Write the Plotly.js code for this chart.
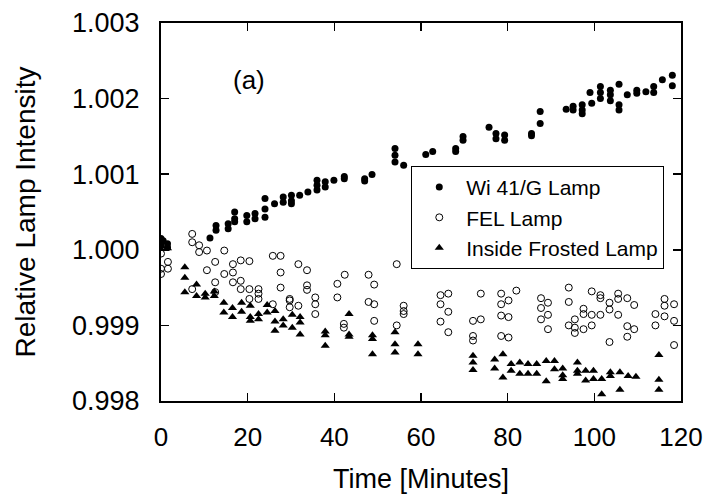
<!DOCTYPE html>
<html>
<head>
<meta charset="utf-8">
<script src="https://cdn.plot.ly/plotly-3.0.1.min.js"></script>
<style>html,body{margin:0;padding:0;background:#fff;}#chart{width:706px;height:494px;}</style>
</head>
<body>
<div id="chart"></div>
<script>
// Wi 41/G Lamp (filled circles)
var wiTime = [0,0,0,0.5,1.5,1.5,
  11.3,12.7,12.7,15.5,15.5,17,17,17,19.8,19.8,21.7,21.7,24,24,24,26.2,28.2,28.2,
  30.1,30.1,30.1,32,33.9,36,36,36,37.9,37.9,39.9,42.3,42.3,47,47,48.7,
  54,54,54,56,61.1,62.7,68,68,69.7,69.7,75.7,77.3,77.3,79.3,79.3,85.5,85.5,
  87.5,87.5,93.5,95.1,95.1,97.2,97.2,97.2,99,99.4,101.4,101.4,101.4,103.7,103.7,103.7,
  105.7,105.7,105.7,107.6,109.8,109.8,111.9,113.7,113.7,115.7,118,118];
var wiValue = [1.00015,1.00010,1.00005,1.00012,1.00008,1.00003,
  1.000155,1.000323,1.00026,1.00028,1.000345,1.0005,1.00041,1.00037,1.000455,1.00037,1.00048,1.00041,1.00068,1.00054,1.00043,1.00061,1.0007,1.00063,
  1.00072,1.00065,1.00061,1.00072,1.000765,1.00092,1.000854,1.00079,1.0009,1.00083,1.00092,1.00097,1.00094,1.00094,1.00091,1.000996,
  1.00134,1.00125,1.00116,1.00112,1.00126,1.0013,1.00134,1.0013,1.0015,1.00145,1.00162,1.00154,1.00147,1.00152,1.00145,1.00154,1.00151,
  1.00183,1.00167,1.00186,1.0019,1.00185,1.00192,1.00185,1.0018,1.00208,1.00194,1.00216,1.00208,1.002,1.00211,1.00205,1.00197,
  1.00219,1.00192,1.00185,1.00205,1.00211,1.00207,1.00209,1.00216,1.00208,1.00225,1.00231,1.00217];

// FEL Lamp (open circles)
var felTime = [0,0,0,1.6,1.6,7.2,7.2,7.2,8.8,8.8,10.6,10.6,12.5,12.5,12.5,14.6,14.6,
  16.6,16.6,16.6,18.4,18.4,18.4,20.4,20.4,20.4,22.5,22.5,22.5,25.8,25.8,27.6,27.6,27.6,
  29.7,29.7,29.7,31.7,31.7,33.7,33.7,33.7,35.6,35.6,35.6,40.7,40.7,42.4,42.2,42.2,
  47.9,47.9,49.2,49.2,49.2,54.4,54.4,56,56,56,64.5,64.5,64.5,66.3,66.3,66.3,
  72,72,72,73.8,73.8,78.5,78.5,78.5,78.5,80.2,80.2,80.2,82,87.7,87.7,87.7,89.3,89.3,89.3,
  94.1,94.1,94.1,95.5,95.5,95.5,97.5,97.5,97.5,99.4,99.4,99.4,101.4,101.4,101.4,103.5,103.5,103.5,
  105.5,105.5,105.5,107.6,107.6,107.6,109.2,109.2,114.1,114.1,116.2,116.2,116.2,118.4,118.4,118.4];
var felValue = [0.99995,0.99975,0.99968,0.99984,0.99975,1.00021,1.0001,0.99948,1.00006,0.99997,0.99999,0.99973,0.99984,0.99957,0.99944,0.99999,0.99968,
  0.99981,0.9997,0.99957,0.99986,0.99959,0.99948,0.99985,0.99948,0.99935,0.99948,0.99942,0.99935,0.99992,0.99928,0.99992,0.9997,0.9995,
  0.99935,0.99933,0.99924,0.99981,0.99926,0.99973,0.99953,0.99947,0.99937,0.99928,0.99915,0.99955,0.99937,0.99967,0.99902,0.99897,
  0.99967,0.99931,0.99954,0.99928,0.99906,0.99981,0.999,0.99926,0.99919,0.99915,0.9994,0.99928,0.99905,0.99942,0.99918,0.99891,
  0.99906,0.99886,0.9988,0.99942,0.99908,0.99942,0.99928,0.99913,0.99886,0.99933,0.99911,0.99884,0.99946,0.99936,0.99923,0.99908,0.9993,0.99914,0.99895,
  0.9995,0.99931,0.999,0.99908,0.99897,0.9989,0.99922,0.99915,0.99895,0.99945,0.99914,0.999,0.9994,0.99936,0.99914,0.9993,0.99921,0.99878,
  0.99942,0.99935,0.99914,0.99936,0.99899,0.99885,0.99927,0.99895,0.99915,0.999,0.99935,0.99926,0.99912,0.99928,0.99906,0.99874];

// Inside Frosted Lamp (filled triangles)
var ifTime = [0,0,1.5,5.5,5.5,5.5,8.2,8.2,10.2,10.2,12.3,12.3,14.5,14.5,16.5,16.5,18.6,18.6,
  20.6,20.6,20.6,22.5,22.5,24.5,24.5,26.3,26.3,26.3,28.2,28.2,30.3,30.3,32.1,32.1,32.1,
  37.9,37.9,37.9,43.4,43.4,43.4,48.8,48.8,48.8,54,54,54,59.3,59.3,
  72,72,72,77,77,78.9,78.9,80.8,80.8,82.8,82.8,84.7,84.7,86.7,86.7,88.9,88.9,90.8,90.8,
  92.7,92.7,92.7,96.1,96.1,96.1,98,98,99.8,99.8,101.7,101.7,103.7,103.7,105.9,105.9,107.8,109.6,
  114.9,114.9,114.9];
var ifValue = [1.00012,1.00005,1.00002,0.99977,0.99963,0.99944,0.99954,0.99939,0.99942,0.99937,0.99945,0.99939,0.9993,0.99917,0.99923,0.99911,0.9993,0.99918,
  0.99926,0.99911,0.99906,0.99915,0.99908,0.99927,0.99917,0.99919,0.99905,0.99893,0.99908,0.999,0.99914,0.99897,0.99911,0.99904,0.99888,
  0.99892,0.99887,0.99873,0.99915,0.99888,0.99885,0.99887,0.99882,0.99862,0.99891,0.99875,0.99864,0.99875,0.99862,
  0.9986,0.99851,0.99841,0.99855,0.99843,0.99862,0.99831,0.99849,0.9984,0.99851,0.99836,0.99849,0.99836,0.99849,0.99836,0.99853,0.99826,0.99853,0.99842,
  0.99843,0.99834,0.99829,0.99851,0.9984,0.99836,0.9984,0.99827,0.9984,0.99829,0.99829,0.99809,0.99838,0.99833,0.99838,0.99815,0.99833,0.99832,
  0.99861,0.99828,0.99815];

var seriesNames = ['Wi 41/G Lamp', 'FEL Lamp', 'Inside Frosted Lamp'];
var xTickVals = [0,20,40,60,80,100,120];
var yTickVals = [0.998,0.999,1.000,1.001,1.002,1.003];
var yTickText = ['0.998','0.999','1.000','1.001','1.002','1.003'];

var FONT = 'Liberation Sans, Arial, Helvetica, sans-serif';

var traces = [
  {x: wiTime, y: wiValue, name: seriesNames[0], type: 'scatter', mode: 'markers',
   marker: {symbol: 'circle', size: 7, color: '#000'}},
  {x: felTime, y: felValue, name: seriesNames[1], type: 'scatter', mode: 'markers',
   marker: {symbol: 'circle-open', size: 7, color: '#000', line: {width: 1, color: '#000'}}},
  {x: ifTime, y: ifValue, name: seriesNames[2], type: 'scatter', mode: 'markers',
   marker: {symbol: 'triangle-up', size: 8, color: '#000'}}
];

var axisCommon = {
  showgrid: false, zeroline: false, showline: true, linecolor: '#000', linewidth: 2,
  mirror: 'allticks', ticks: 'inside', ticklen: 8, tickwidth: 1.5, tickcolor: '#000'
};

var layout = {
  width: 706, height: 494,
  margin: {l: 161, r: 25, t: 23, b: 93},
  paper_bgcolor: '#fff', plot_bgcolor: '#fff',
  showlegend: true,
  legend: {x: 0.4813, y: 0.622, xanchor: 'left', yanchor: 'top',
    bgcolor: '#fff', bordercolor: '#000', borderwidth: 1,
    font: {family: FONT, size: 21, color: '#000'}, itemwidth: 44},
  xaxis: Object.assign({}, axisCommon, {
    range: [0, 120], tickvals: xTickVals, ticklabelstandoff: 12,
    tickfont: {family: FONT, size: 26, color: '#000'},
    title: {text: 'Time [Minutes]', font: {family: FONT, size: 27, color: '#000'}, standoff: 32}
  }),
  yaxis: Object.assign({}, axisCommon, {
    range: [0.998, 1.003], tickvals: yTickVals, ticktext: yTickText, ticklabelstandoff: 14,
    tickfont: {family: FONT, size: 27, color: '#000'},
    title: {text: 'Relative Lamp Intensity', font: {family: FONT, size: 28, color: '#000'}, standoff: 28}
  }),
  annotations: [{x: 20.4, y: 1.002242, xref: 'x', yref: 'y', text: '(a)', showarrow: false,
    font: {family: FONT, size: 26, color: '#000'}}]
};

Plotly.newPlot('chart', traces, layout, {displayModeBar: false, staticPlot: true});
</script>
</body>
</html>
